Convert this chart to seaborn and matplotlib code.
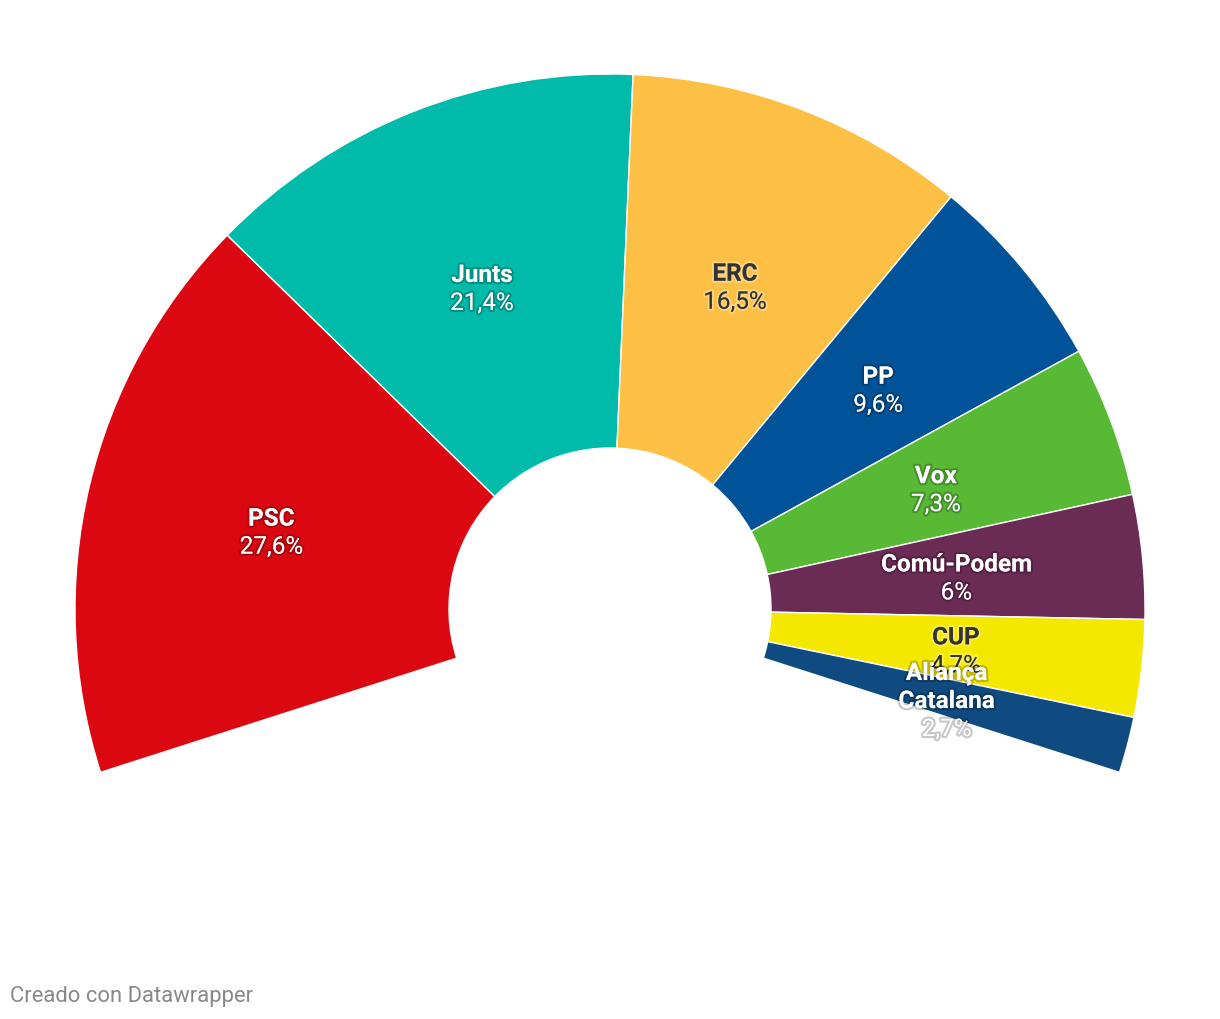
import numpy as np
import matplotlib
matplotlib.use("Agg")
import matplotlib.pyplot as plt
import matplotlib.patheffects as pe
import seaborn as sns

# Catalan election results (share of vote, %)
parties = ["PSC", "Junts", "ERC", "PP", "Vox", "Comú-Podem", "CUP", "Aliança\nCatalana"]
shares = [27.6, 21.4, 16.5, 9.6, 7.3, 6.0, 4.7, 2.7]
share_labels = ["27,6%", "21,4%", "16,5%", "9,6%", "7,3%", "6%", "4,7%", "2,7%"]
colors = ["#db0812", "#00bbaa", "#fdbf44", "#005399", "#58b935",
          "#6a2b55", "#f5e800", "#0f4a80"]
dark_text = ["ERC", "CUP"]

sns.set_theme(style="white")
plt.rcParams["font.family"] = ["Roboto", "DejaVu Sans"]

W, H = 1220, 1020
fig = plt.figure(figsize=(W / 100, H / 100), dpi=100)
ax = fig.add_axes([0, 0, 1, 1])

# 100% of the vote spans 225 degrees; the arc is centred on the top
deg_per_pct = 2.25
total = sum(shares)
hidden = 360 / deg_per_pct - total
start = 90 + total * deg_per_pct / 2

cx, cy = 610, H - 610
r_out, r_in = 535, 161

wedges, _ = ax.pie(shares + [hidden], colors=colors + ["none"],
                   startangle=start, counterclock=False,
                   center=(cx, cy), radius=r_out,
                   wedgeprops=dict(width=r_out - r_in, edgecolor="white", linewidth=1))
wedges[-1].set_edgecolor("none")

# labels at the middle radius of each wedge
r_mid = (r_out + r_in) / 2
line_h = 28
a = start
for name, val, lab, col in zip(parties, shares, share_labels, colors):
    span = val * deg_per_pct
    mid = np.deg2rad(a - span / 2)
    a -= span
    x = cx + r_mid * np.cos(mid)
    y = cy + r_mid * np.sin(mid) - 4
    n_lines = name.count("\n") + 2
    top = y + (n_lines - 1) * line_h / 2
    if name in dark_text:
        fc, glow = "#333333", (1, 1, 1, 0.3)
    else:
        fc, glow = "white", (0, 0, 0, 0.22)
    fx = [pe.withStroke(linewidth=3, foreground=glow)]
    for i, part in enumerate(name.split("\n")):
        ax.text(x, top - i * line_h, part, ha="center", va="center",
                fontsize=17.5, fontweight="bold", color=fc, path_effects=fx)
    ax.text(x, top - (n_lines - 1) * line_h, lab, ha="center", va="center",
            fontsize=17.5, color=fc, path_effects=fx)

ax.text(10, H - 997, "Creado con Datawrapper", ha="left", va="center",
        fontsize=15.8, color="#888888")

ax.set_xlim(0, W)
ax.set_ylim(0, H)
ax.set_aspect("equal")
ax.set_axis_off()

fig.savefig("out.png", dpi=100, facecolor="white")
